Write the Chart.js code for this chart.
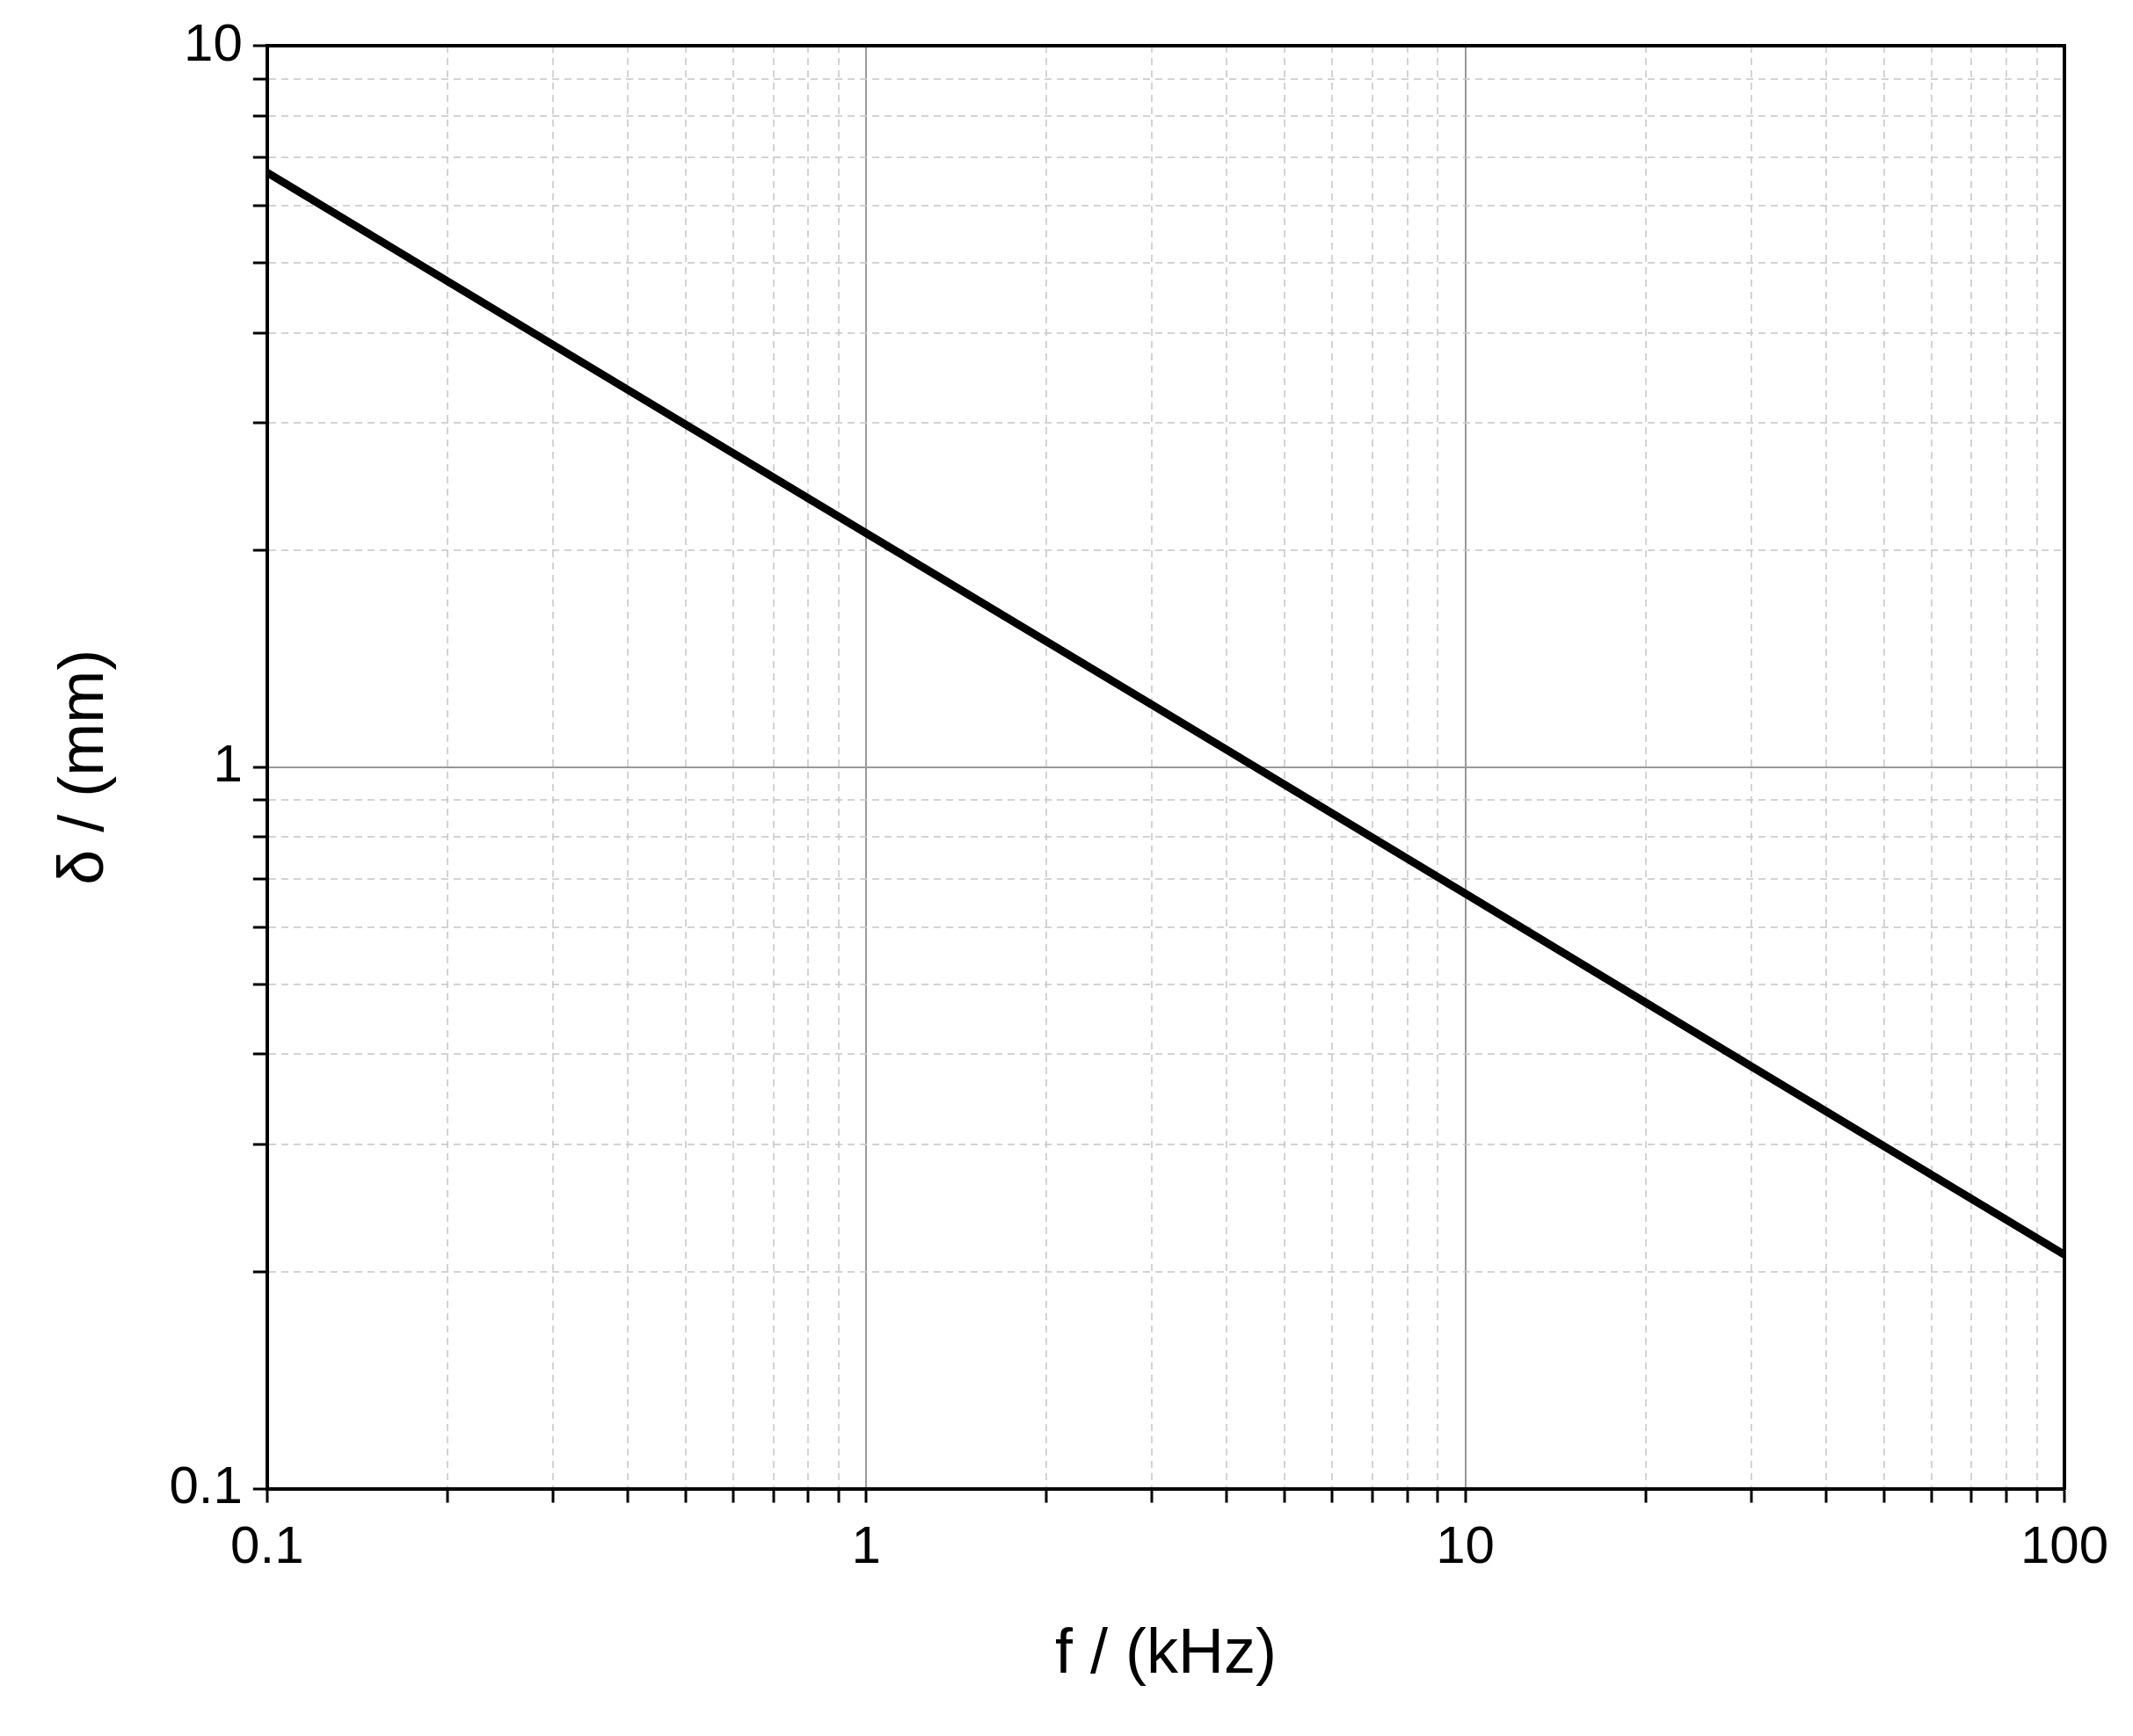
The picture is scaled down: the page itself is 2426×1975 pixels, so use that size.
<!DOCTYPE html>
<html>
<head>
<meta charset="utf-8">
<script src="https://cdn.jsdelivr.net/npm/chart.js@4/dist/chart.umd.min.js"></script>
<style>
html, body { margin: 0; padding: 0; background: #fff; }
#wrap { width: 2426px; height: 1975px; }
</style>
</head>
<body>
<div id="wrap"><canvas id="skinChart"></canvas></div>
<script>
// frequency (kHz) vs skin depth (mm)
const freqKHz = [0.1, 0.3, 1, 3, 10, 30, 100];
const depthMM = [6.67, 3.85, 2.11, 1.22, 0.668, 0.385, 0.211];
const xMajor = [0.1, 1, 10, 100];
const yMajor = [0.1, 1, 10];

function logTicks(min, max) {
    const out = [];
    for (let d = min; d < max * 1.0001; d *= 10) {
        for (let m = 1; m <= 9; m++) {
            const v = +(m * d).toPrecision(3);
            if (v <= max * 1.0001) out.push(v);
        }
    }
    return out;
}
const isMajor = v => Math.abs(Math.log10(v) - Math.round(Math.log10(v))) < 1e-6;
const fmt = v => (v < 1 ? v.toFixed(1) : String(Math.round(v)));

const font = { family: 'Arial, "Liberation Sans", sans-serif', size: 60 };

const ctx = document.getElementById('skinChart').getContext('2d');
new Chart(ctx, {
    type: 'line',
    data: {
        datasets: [{
            data: freqKHz.map((f, i) => ({ x: f, y: depthMM[i] })),
            borderColor: '#000',
            borderWidth: 9,
            pointRadius: 0,
            tension: 0
        }]
    },
    options: {
        responsive: true,
        maintainAspectRatio: false,
        animation: false,
        layout: { padding: { top: 52, right: 78, left: 50, bottom: 45 } },
        plugins: { legend: { display: false }, tooltip: { enabled: false } },
        scales: {
            x: {
                type: 'logarithmic', min: 0.1, max: 100, position: 'bottom',
                afterBuildTicks: s => { s.ticks = logTicks(0.1, 100).map(v => ({ value: v })); },
                ticks: {
                    autoSkip: false, maxRotation: 0, color: '#000', font, padding: 16,
                    callback: v => (isMajor(v) ? fmt(v) : '')
                },
                grid: {
                    color: 'rgba(200,200,200,0.8)', lineWidth: 2,
                    tickColor: '#000', tickLength: 16, tickWidth: 3
                },
                border: { color: '#000', width: 4, dash: [8, 6] },
                title: { display: true, text: 'f / (kHz)', color: '#000',
                    font: { family: font.family, size: 72 }, padding: { top: 26 } }
            },
            x2: {
                type: 'logarithmic', min: 0.1, max: 100, position: 'top',
                afterBuildTicks: s => { s.ticks = xMajor.map(v => ({ value: v })); },
                ticks: { display: false },
                grid: { color: '#999', lineWidth: 2, drawTicks: false },
                border: { color: '#000', width: 4 }
            },
            y: {
                type: 'logarithmic', min: 0.1, max: 10, position: 'left',
                afterBuildTicks: s => { s.ticks = logTicks(0.1, 10).map(v => ({ value: v })); },
                ticks: {
                    autoSkip: false, color: '#000', font, padding: 12,
                    callback: v => (isMajor(v) ? fmt(v) : '')
                },
                grid: {
                    color: 'rgba(200,200,200,0.8)', lineWidth: 2,
                    tickColor: '#000', tickLength: 16, tickWidth: 3
                },
                border: { color: '#000', width: 4, dash: [8, 6] },
                title: { display: true, text: 'δ / (mm)', color: '#000',
                    font: { family: font.family, size: 72 }, padding: { bottom: 40 } }
            },
            y2: {
                type: 'logarithmic', min: 0.1, max: 10, position: 'right',
                afterBuildTicks: s => { s.ticks = yMajor.map(v => ({ value: v })); },
                ticks: { display: false },
                grid: { color: '#999', lineWidth: 2, drawTicks: false },
                border: { color: '#000', width: 4 }
            }
        }
    }
});
</script>
</body>
</html>
